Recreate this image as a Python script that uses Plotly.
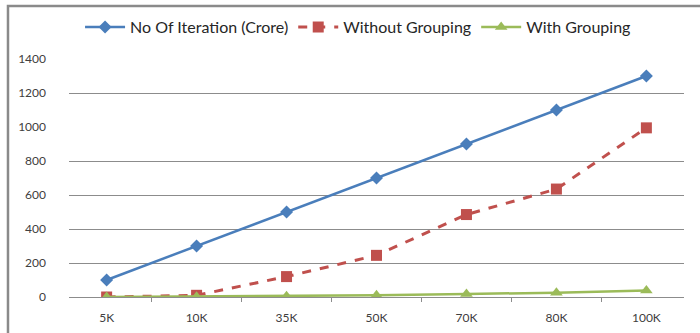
import plotly.graph_objects as go

# Data
categories = ["5K", "10K", "35K", "50K", "70K", "80K", "100K"]
iterations_crore = [100, 300, 500, 700, 900, 1100, 1300]
without_grouping = [0, 10, 120, 245, 485, 635, 995]
with_grouping = [0, 2, 5, 10, 18, 25, 38]
y_ticks = [0, 200, 400, 600, 800, 1000, 1200, 1400]
grid_levels = [200, 400, 600, 800, 1200]

FONT = "Lato, 'Open Sans', sans-serif"
Y_RANGE = [0, 1400]

fig = go.Figure()

# The primary y axis carries the value labels; y2 shares the same range
# and carries the horizontal guide lines.
fig.add_trace(go.Scatter(
    x=categories, y=iterations_crore, name="No Of Iteration (Crore)",
    mode="lines+markers", yaxis="y",
    line=dict(color="#4A7EBB", width=2.5),
    marker=dict(symbol="diamond", size=10, color="#4A7EBB"),
))
fig.add_trace(go.Scatter(
    x=categories, y=without_grouping, name="Without Grouping",
    mode="lines+markers", yaxis="y2",
    line=dict(color="#C0504D", width=3, dash="dash"),
    marker=dict(symbol="square", size=11, color="#C0504D"),
))
fig.add_trace(go.Scatter(
    x=categories, y=with_grouping, name="With Grouping",
    mode="lines+markers", yaxis="y2",
    line=dict(color="#9BBB59", width=2.5),
    marker=dict(symbol="triangle-up", size=11, color="#9BBB59"),
))

# chart frame (left and top edges visible)
fig.add_shape(type="rect", xref="paper", yref="paper",
              x0=-0.0992, x1=1.2, y0=-0.3, y1=1.2227,
              line=dict(color="#8A8A8A", width=2.5), layer="below")

fig.update_layout(
    width=700, height=333,
    margin=dict(l=69, r=16, t=59, b=36, autoexpand=False),
    paper_bgcolor="white", plot_bgcolor="white",
    font=dict(family=FONT, color="#404040", size=12),
    showlegend=True,
    legend=dict(orientation="h", x=0.47, xanchor="center", y=1.134, yanchor="middle",
                font=dict(size=16, color="#262626"), itemwidth=40,
                bgcolor="rgba(0,0,0,0)"),
    xaxis=dict(
        type="category", categoryarray=categories, showgrid=False, zeroline=False,
        showline=True, linecolor="#8C8C8C", linewidth=1,
        ticks="outside", tickson="boundaries", ticklen=4, tickcolor="#8C8C8C",
        ticklabelstandoff=10, tickfont=dict(size=12, color="#404040"),
    ),
    yaxis=dict(
        range=Y_RANGE, tickvals=y_ticks, showgrid=False, zeroline=False,
        showline=False, ticks="", ticklabelstandoff=22,
        tickfont=dict(size=12, color="#404040"),
    ),
    yaxis2=dict(
        overlaying="y", anchor="x", side="left", range=Y_RANGE,
        tickvals=grid_levels, showgrid=True, gridcolor="#8C8C8C", gridwidth=1,
        showticklabels=False, ticks="", zeroline=False, showline=False,
    ),
)

fig.write_html("out.html")
